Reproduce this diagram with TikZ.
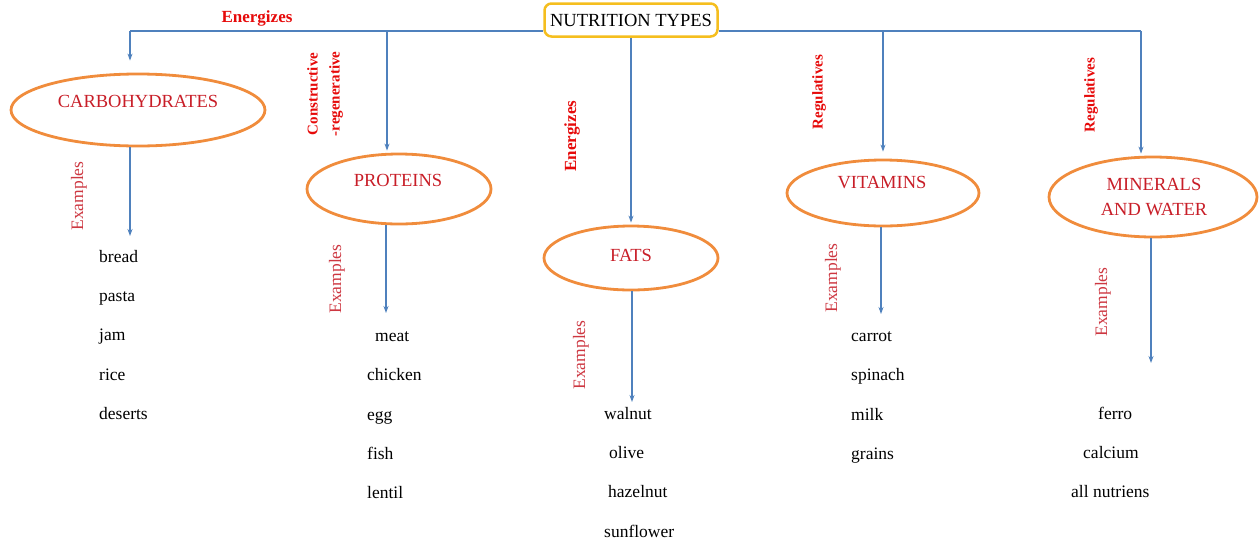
\documentclass[tikz,border=0pt]{standalone}
\usepackage{fontspec}
\setmainfont{Liberation Serif}
\usetikzlibrary{shapes.geometric,arrows.meta}
\definecolor{lblue}{RGB}{79,129,189}
\definecolor{eorange}{RGB}{240,140,60}
\definecolor{gold}{RGB}{245,190,30}
\definecolor{dred}{RGB}{200,30,40}
\definecolor{bred}{RGB}{230,10,10}
\definecolor{xred}{RGB}{205,55,65}
\tikzset{
 conn/.style={draw=lblue,line width=1.1pt},
 arr/.style={conn,-{Stealth[length=7pt,width=5pt]}},
 oval/.style={ellipse,draw=eorange,line width=2.8pt,inner sep=0pt},
 otext/.style={text=dred,font=\fontsize{18.5}{25}\selectfont,align=center,inner sep=0pt},
 item/.style={anchor=base west,font=\fontsize{17.5}{21}\selectfont,inner sep=0pt},
 exlab/.style={rotate=90,text=xred,font=\fontsize{17.5}{21}\selectfont,inner sep=0pt},
 role/.style={text=bred,font=\bfseries\fontsize{15}{22}\selectfont,align=center,inner sep=0pt},
 bigrole/.style={text=bred,font=\bfseries\fontsize{17}{21}\selectfont,inner sep=0pt},
}
\begin{document}
\begin{tikzpicture}[x=1pt,y=-1pt]
\useasboundingbox (0,0) rectangle (1260,544);
% title box
\node[draw=gold,line width=2.5pt,rounded corners=7pt,minimum width=173pt,minimum height=33pt,fill=white,font=\fontsize{18.5}{21}\selectfont,inner sep=0pt] (top) at (631,20) {NUTRITION TYPES};
% ellipses
\node[oval,minimum width=254pt,minimum height=72pt] (carb) at (138,110) {};
\node[oval,minimum width=184pt,minimum height=70pt] (prot) at (399,189) {};
\node[oval,minimum width=174pt,minimum height=64pt] (fats) at (631,258) {};
\node[oval,minimum width=192pt,minimum height=66pt] (vita) at (883,193) {};
\node[oval,minimum width=208pt,minimum height=80pt] (mine) at (1153,197) {};
\node[otext] (carbt) at (138,101) {CARBOHYDRATES};
\node[otext] (prott) at (398,180) {PROTEINS};
\node[otext] (fatst) at (631,255) {FATS};
\node[otext] (vitat) at (882,183) {VITAMINS};
\node[otext] (minet) at (1154,197) {MINERALS\\AND WATER};
% top connectors
\coordinate (hl) at (130,31);
\coordinate (jp) at (387,31);
\coordinate (jv) at (883,31);
\coordinate (hr) at (1141,31);
\draw[conn] (hl) -- (top.west |- hl);
\draw[conn] (top.east |- hr) -- (hr);
\draw[arr,shorten >=12pt] (hl) -- (hl |- carb.north);
\draw[arr,shorten >=2pt] (jp) -- (jp |- prot.north);
\draw[arr,shorten >=2pt] (top.south) -- (fats.north);
\draw[arr,shorten >=7pt] (jv) -- (jv |- vita.north);
\draw[arr,shorten >=2pt] (hr) -- (hr |- mine.north);
% role labels
\node[bigrole] (en1) at (257,18) {Energizes};
\node[role,rotate=90] (cons) at (325,94) {Constructive\\-regenerative};
\node[bigrole,rotate=90] (en2) at (572,136) {Energizes};
\node[role,rotate=90] (reg1) at (819,92) {Regulatives};
\node[role,rotate=90] (reg2) at (1091,95) {Regulatives};
% down arrows
\coordinate (cx) at (130,236);
\coordinate (px) at (386,313);
\coordinate (fx) at (632,402);
\coordinate (vx) at (881,314);
\coordinate (mx) at (1151,363);
\draw[arr] (cx |- carb.south) -- (cx);
\draw[arr] (px |- prot.south) -- (px);
\draw[arr] (fx |- fats.south) -- (fx);
\draw[arr] (vx |- vita.south) -- (vx);
\draw[arr] (mx |- mine.south) -- (mx);
% examples labels
\node[exlab] (ex1) at (79,196) {Examples};
\node[exlab] (ex2) at (337,279) {Examples};
\node[exlab] (ex3) at (581,355) {Examples};
\node[exlab] (ex4) at (833,278) {Examples};
\node[exlab] (ex5) at (1103,302) {Examples};
% items
\node[item] (c1) at (99,262) {bread};
\node[item] (c2) at (99,301) {pasta};
\node[item] (c3) at (99,340.5) {jam};
\node[item] (c4) at (99,380) {rice};
\node[item] (c5) at (99,419.5) {deserts};
\node[item] (p1) at (375,341) {meat};
\node[item] (p2) at (367,380) {chicken};
\node[item] (p3) at (367,420) {egg};
\node[item] (p4) at (367,459) {fish};
\node[item] (p5) at (367,498) {lentil};
\node[item] (f1) at (604,419) {walnut};
\node[item] (f2) at (609,458) {olive};
\node[item] (f3) at (608,497) {hazelnut};
\node[item] (f4) at (604,537) {sunflower};
\node[item] (v1) at (851,341) {carrot};
\node[item] (v2) at (851,380) {spinach};
\node[item] (v3) at (851,420) {milk};
\node[item] (v4) at (851,459) {grains};
\node[item] (m1) at (1098,419) {ferro};
\node[item] (m2) at (1083,458) {calcium};
\node[item] (m3) at (1071,497) {all nutriens};
\end{tikzpicture}
\end{document}
